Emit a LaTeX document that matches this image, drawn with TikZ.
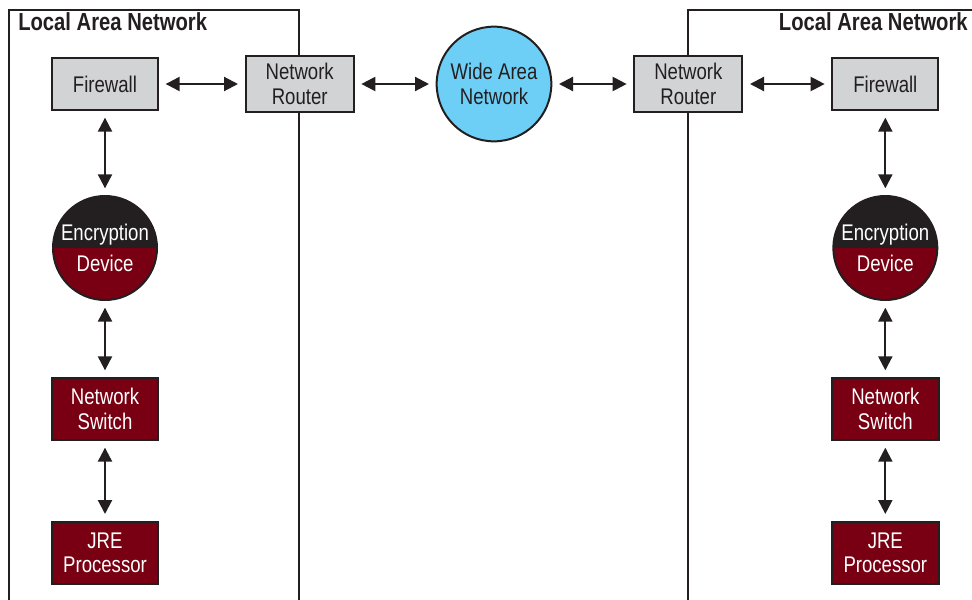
\documentclass[tikz,border=0pt]{standalone}
\usepackage{fontspec}
\setmainfont{Liberation Sans}[FakeStretch=0.82]
\usepackage{tikz}
\usetikzlibrary{arrows.meta,positioning,backgrounds}
\definecolor{linec}{HTML}{231F20}
\definecolor{boxgray}{HTML}{D1D3D4}
\definecolor{devred}{HTML}{780012}
\definecolor{wanblue}{HTML}{6DCFF6}
\newcommand\netfont{\fontsize{17}{18.5}\selectfont}
\newcommand\encfont{\fontsize{17}{23}\selectfont}
\newcommand\lanfont{\fontsize{18.5}{20}\selectfont\bfseries}
\tikzset{
  box/.style   ={draw=linec,line width=1.5pt,align=center,inner sep=2pt,font=\netfont},
  gbox/.style  ={box,fill=boxgray,text=linec,minimum width=79.5pt,minimum height=39pt},
  rbox/.style  ={box,fill=devred,text=white,minimum width=80pt,minimum height=46.5pt},
  wan/.style   ={box,circle,fill=wanblue,text=linec,minimum size=86pt,inner sep=0pt},
  enc/.style   ={box,circle,fill=devred,text=white,minimum size=78pt,inner sep=0pt,font=\encfont,
                 path picture={\fill[linec] (path picture bounding box.north west) rectangle (path picture bounding box.east);}},
  link/.style  ={{Triangle[length=10.5pt,width=10.5pt]}-{Triangle[length=10.5pt,width=10.5pt]},line width=1.6pt,draw=linec,
                 shorten >=5pt,shorten <=5pt},
  lan/.style   ={draw=linec,line width=1.2pt},
  ttl/.style   ={font=\lanfont,text=linec,inner sep=0pt},
}
\begin{document}
\begin{tikzpicture}[x=0.75pt,y=-0.75pt]
  \useasboundingbox (0,0) rectangle (972,600);
  % left side
  \node[gbox] (fwL) at (105,84) {Firewall};
  \node[enc,below=63pt of fwL] (encL) {Encryption\\Device};
  \node[rbox,below=57pt of encL] (swL) {Network\\Switch};
  \node[rbox,below=59.75pt of swL] (jreL) {JRE\\Processor};
  % middle
  \node[gbox,minimum width=81pt,minimum height=42pt,right=64.25pt of fwL] (rtL) {Network\\Router};
  \node[wan,right=60.75pt of rtL] (wan) {Wide Area\\Network};
  \node[gbox,minimum width=81pt,minimum height=42pt,right=60.75pt of wan] (rtR) {Network\\Router};
  % right side
  \node[gbox,right=66pt of rtR] (fwR) {Firewall};
  \node[enc,below=63pt of fwR] (encR) {Encryption\\Device};
  \node[rbox,below=57pt of encR] (swR) {Network\\Switch};
  \node[rbox,below=59.75pt of swR] (jreR) {JRE\\Processor};
  % links
  \draw[link] (fwL) -- (rtL);
  \draw[link] (rtL) -- (wan);
  \draw[link] (wan) -- (rtR);
  \draw[link] (rtR) -- (fwR);
  \draw[link] (fwL) -- (encL);
  \draw[link] (encL) -- (swL);
  \draw[link] (swL) -- (jreL);
  \draw[link] (fwR) -- (encR);
  \draw[link] (encR) -- (swR);
  \draw[link] (swR) -- (jreR);
  % LAN frames
  \node[ttl,anchor=west] (lanL) at (18,22) {Local Area Network};
  \node[ttl,anchor=east] (lanR) at (968,22) {Local Area Network};
  \begin{scope}[on background layer]
    \draw[lan] (9,600) |- (299,10) -- (299,600);
    \draw[lan] (980,10) -| (688,600);
  \end{scope}
\end{tikzpicture}
\end{document}
